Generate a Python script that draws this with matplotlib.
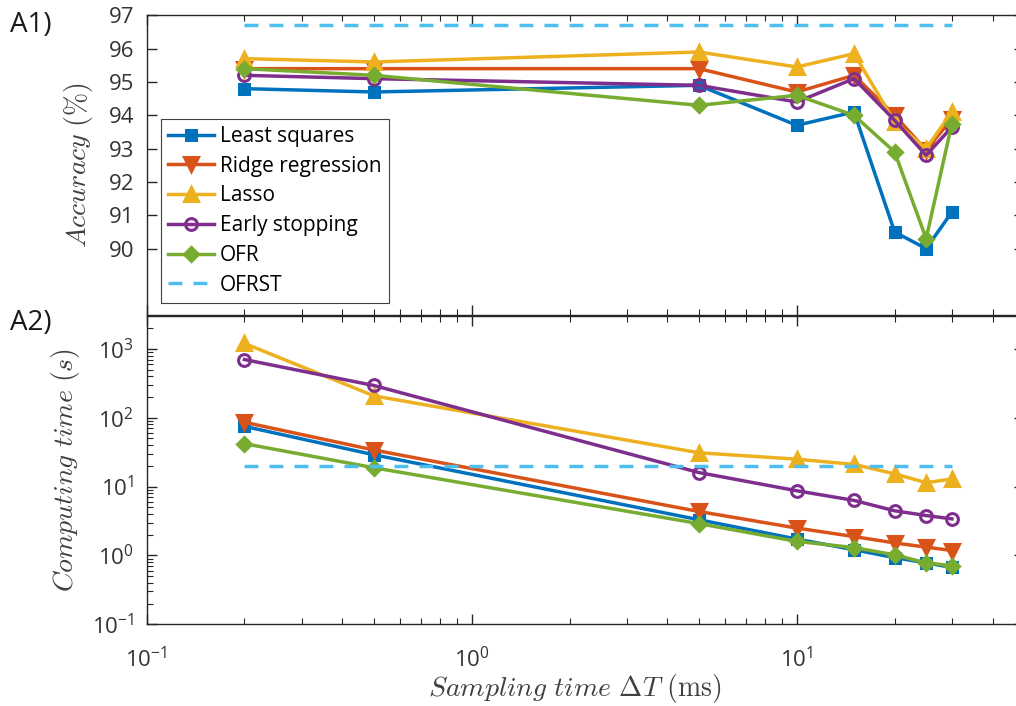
import numpy as np
import matplotlib
matplotlib.use("Agg")
import matplotlib.pyplot as plt
from matplotlib.ticker import LogLocator, FixedLocator, NullFormatter

plt.rcParams.update({
    "font.family": "Open Sans",
    "mathtext.fontset": "cm",
    "font.size": 16,
    "xtick.direction": "in",
    "ytick.direction": "in",
    "xtick.top": True,
    "ytick.right": True,
    "axes.edgecolor": "#262626",
    "xtick.color": "#262626",
    "ytick.color": "#262626",
    "axes.linewidth": 1.0,
})

# ---- data ------------------------------------------------------------------
dt = [0.2, 0.5, 5, 10, 15, 20, 25, 30]          # sampling time (ms)
labels = ["Least squares", "Ridge regression", "Lasso", "Early stopping", "OFR"]

acc_ls    = [94.8, 94.7, 94.9, 93.7, 94.1, 90.5, 90.0, 91.1]
acc_ridge = [95.4, 95.4, 95.4, 94.7, 95.2, 94.0, 92.95, 93.9]
acc_lasso = [95.7, 95.6, 95.9, 95.45, 95.85, 93.8, 93.0, 94.1]
acc_es    = [95.2, 95.1, 94.9, 94.4, 95.1, 93.85, 92.8, 93.65]
acc_ofr   = [95.4, 95.2, 94.3, 94.6, 94.0, 92.9, 90.3, 93.75]
acc_ofrst = 96.7

t_ls    = [75, 29, 3.3, 1.73, 1.21, 0.93, 0.78, 0.67]
t_ridge = [86, 34, 4.35, 2.5, 1.88, 1.52, 1.32, 1.18]
t_lasso = [1200, 208, 31, 25, 21, 15.3, 11.4, 12.9]
t_es    = [700, 294, 16, 8.7, 6.3, 4.45, 3.8, 3.4]
t_ofr   = [42, 18.8, 2.9, 1.6, 1.3, 1.02, 0.78, 0.71]
t_ofrst = 20

# MATLAB default colour order
colors  = ["#0072BD", "#D95319", "#EDB120", "#7E2F8E", "#77AC30"]
markers = ["s", "v", "^", "o", "D"]
msizes  = [7.5, 10, 10, 8.5, 7.5]
c_ofrst = "#4DBEEE"

fig = plt.figure(figsize=(10.16, 7.06), dpi=100)
ax1 = fig.add_axes([0.1442, 0.5534, 0.8637, 0.4249])
ax2 = fig.add_axes([0.1442, 0.1157, 0.8637, 0.4367])

acc = [acc_ls, acc_ridge, acc_lasso, acc_es, acc_ofr]
tim = [t_ls, t_ridge, t_lasso, t_es, t_ofr]

for ax, series, ref in [(ax1, acc, acc_ofrst), (ax2, tim, t_ofrst)]:
    for y, lab, c, m, ms in zip(series, labels, colors, markers, msizes):
        face = "none" if m == "o" else c
        ax.plot(dt, y, color=c, lw=2.5, marker=m, ms=ms, mfc=face, mec=c,
                mew=2.2, label=lab)
    ax.plot([dt[0], dt[-1]], [ref, ref], color=c_ofrst, lw=2.5,
            dashes=(4.0, 3.2), label="OFRST")
    ax.set_xscale("log")
    ax.set_xlim(0.1, 50)
    ax.xaxis.set_minor_locator(LogLocator(base=10, subs=np.arange(2, 10)))
    ax.tick_params(which="major", length=7, width=1.0, labelsize=16,
                   labelcolor="#333333")
    ax.tick_params(which="minor", length=4, width=0.8)

# ---- A1 accuracy ------------------------------------------------------------
ax1.set_ylim(88, 97)
ax1.yaxis.set_major_locator(FixedLocator(range(90, 98)))
ax1.xaxis.set_major_formatter(NullFormatter())
ax1.xaxis.set_minor_formatter(NullFormatter())
ax1.tick_params(axis="y", pad=9)
ax1.set_ylabel(r"$Accuracy\ (\%)$", fontsize=20, color="#404040")
ax1.yaxis.set_label_coords(-0.059, 0.5)
leg = ax1.legend(loc="lower left", bbox_to_anchor=(0.0162, 0.041),
                 borderaxespad=0, fontsize=15, handlelength=2.2,
                 handletextpad=0.3, labelspacing=0.42, borderpad=0.35,
                 fancybox=False, edgecolor="#404040", framealpha=1)
leg.get_frame().set_linewidth(0.8)

# ---- A2 computing time --------------------------------------------------------
ax2.set_yscale("log")
ax2.set_ylim(0.1, 3000)
ax2.yaxis.set_minor_locator(LogLocator(base=10, subs=np.arange(2, 10)))
ax2.yaxis.set_minor_formatter(NullFormatter())
ax2.xaxis.set_minor_formatter(NullFormatter())
ax2.tick_params(axis="y", pad=9)
ax2.tick_params(axis="x", pad=16)
ax2.set_ylabel(r"$Computing\ time\ (s)$", fontsize=20, color="#404040")
ax2.yaxis.set_label_coords(-0.073, 0.5)
ax2.set_xlabel(r"$Sampling\ time\ \Delta T\ \mathrm{(ms)}$", fontsize=20,
               color="#404040")
ax2.xaxis.set_label_coords(0.488, -0.155)

fig.text(0.010, 0.985, "A1)", fontsize=20, va="top", ha="left", color="#1a1a1a")
fig.text(0.010, 0.563, "A2)", fontsize=20, va="top", ha="left", color="#1a1a1a")

fig.savefig("out.png", dpi=100)
